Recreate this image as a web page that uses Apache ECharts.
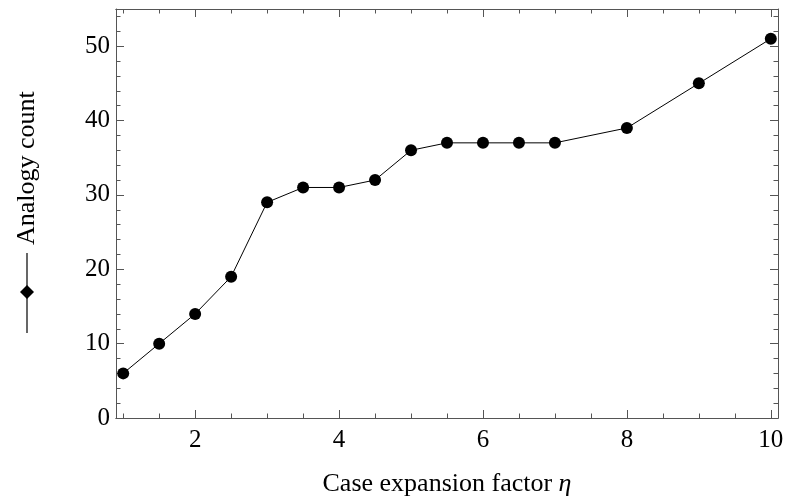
<!DOCTYPE html>
<html>
<head>
<meta charset="utf-8">
<script src="https://cdn.jsdelivr.net/npm/echarts@6/dist/echarts.min.js"></script>
<style>html,body{margin:0;padding:0;background:#fff}#c{width:790px;height:504px}</style>
</head>
<body>
<div id="c"></div>
<script>
// ---- data ----
const etaValues = [1, 1.5, 2, 2.5, 3, 3.5, 4, 4.5, 5, 5.5, 6, 6.5, 7, 8, 9, 10];
const analogyCount = [6, 10, 14, 19, 29, 31, 31, 32, 36, 37, 37, 37, 37, 39, 45, 51];
const xMajorTicks = [2, 4, 6, 8, 10];
const xMinorTicks = [1, 1.5, 2.5, 3, 3.5, 4.5, 5, 5.5, 6.5, 7, 7.5, 8.5, 9, 9.5];
const yTicks = [0, 10, 20, 30, 40, 50];
const seriesName = 'Analogy count';
const xTitle = 'Case expansion factor ';
const xTitleSymbol = 'η';

const FONT = '"Liberation Serif", "DejaVu Serif", serif';
const FRAME = '#555';
const TICK_FS = 25;
const TITLE_FS = 26;
const points = etaValues.map((x, i) => [x, analogyCount[i]]);

function xAxisDef(pos, ticks, len, labels, extra) {
  return Object.assign({
    type: 'value', position: pos, min: 0.9, max: 10.1,
    axisLine: { show: true, lineStyle: { color: FRAME, width: 1 } },
    splitLine: { show: false },
    axisTick: { show: true, inside: true, length: len, customValues: ticks, lineStyle: { color: FRAME } },
    axisLabel: labels ? { show: true, customValues: ticks, color: '#000', fontFamily: FONT, fontSize: TICK_FS, margin: 10 } : { show: false }
  }, extra || {});
}
function yAxisDef(pos, labels) {
  return {
    type: 'value', position: pos, min: 0, max: 55, interval: 10,
    axisLine: { show: true, lineStyle: { color: FRAME, width: 1 } },
    splitLine: { show: false },
    axisTick: { show: true, inside: true, length: 8, lineStyle: { color: FRAME } },
    minorTick: { show: true, splitNumber: 5, length: 4.5, lineStyle: { color: FRAME } },
    axisLabel: labels ? { show: true, color: '#000', fontFamily: FONT, fontSize: TICK_FS, margin: 6,
      customValues: yTicks } : { show: false }
  };
}

const chart = echarts.init(document.getElementById('c'), null, { renderer: 'canvas' });
chart.setOption({
  animation: false,
  backgroundColor: '#fff',
  grid: { left: 116, right: 12, top: 9, bottom: 86, containLabel: false },
  xAxis: [
    xAxisDef('bottom', xMajorTicks, 8, true, {
      name: xTitle + '{i|' + xTitleSymbol + '}', nameLocation: 'middle', nameGap: 53,
      nameTextStyle: { color: '#000', fontFamily: FONT, fontSize: TITLE_FS,
        rich: { i: { fontStyle: 'italic', fontFamily: FONT, fontSize: TITLE_FS, color: '#000' } } }
    }),
    xAxisDef('bottom', xMinorTicks, 4.5, false),
    xAxisDef('top', xMajorTicks, 8, false),
    xAxisDef('top', xMinorTicks, 4.5, false)
  ],
  yAxis: [yAxisDef('left', true), yAxisDef('right', false)],
  series: [{
    name: seriesName, type: 'line', data: points, xAxisIndex: 0, yAxisIndex: 0,
    symbol: 'circle', symbolSize: 12,
    lineStyle: { color: '#000', width: 1 },
    itemStyle: { color: '#000' }
  }],
  graphic: [{
    type: 'group', x: 27, y: 333, rotation: Math.PI / 2,
    children: [
      { type: 'line', shape: { x1: 0, y1: 0, x2: 80, y2: 0 }, style: { stroke: '#000', lineWidth: 1.2 } },
      { type: 'polygon', shape: { points: [[34, 0], [41, -7], [48, 0], [41, 7]] }, style: { fill: '#000' } },
      { type: 'text', x: 88, y: 0, style: { text: seriesName, fontFamily: FONT, fontSize: TITLE_FS, fill: '#000',
        align: 'left', verticalAlign: 'middle' } }
    ]
  }]
});
</script>
</body>
</html>
